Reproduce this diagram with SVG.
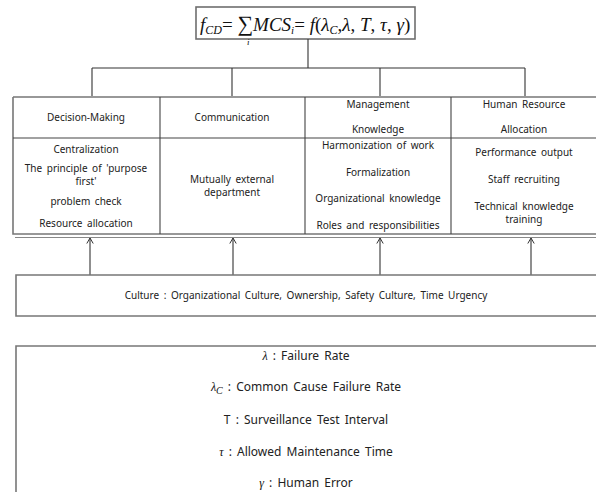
<svg xmlns="http://www.w3.org/2000/svg" width="596" height="492" viewBox="0 0 596 492">
<defs>
<style>
.t{font-family:"Noto Sans","DejaVu Sans",sans-serif;font-size:10px;fill:#222;text-anchor:middle;word-spacing:2px}
.lg{font-family:"Noto Sans","DejaVu Sans",sans-serif;font-size:12px;fill:#222;text-anchor:middle;word-spacing:2px}
.m{font-family:"Liberation Serif","DejaVu Serif",serif;font-style:italic;fill:#111}
.box{fill:#fff;stroke:#6e6e6e;stroke-width:1.6}
.ln{stroke:#333;stroke-width:1.1;fill:none}
.cell{stroke:#444;stroke-width:1.1;fill:none}
</style>
<marker id="ah" markerWidth="8" markerHeight="8" refX="7" refY="4" orient="auto" markerUnits="userSpaceOnUse" viewBox="0 0 8 8">
<path d="M1.5,0.8 L7,4 L1.5,7.2" fill="none" stroke="#333" stroke-width="1"/>
</marker>
</defs>
<rect width="596" height="492" fill="#fff"/>

<g id="formula">
<rect class="box" x="196" y="7" width="219" height="32"/>
<text class="m" x="200" y="31" font-size="19">f<tspan font-size="12" dy="3">CD</tspan><tspan font-style="normal" dy="-3">= </tspan><tspan font-style="normal" font-size="22">∑</tspan>MCS<tspan font-size="11" dy="3">i</tspan><tspan font-style="normal" dy="-3">= </tspan>f<tspan font-style="normal">(</tspan>λ<tspan font-size="12" dy="3">C</tspan><tspan font-style="normal" dy="-3">,</tspan>λ<tspan font-style="normal">, </tspan>T<tspan font-style="normal">, </tspan>τ<tspan font-style="normal">, </tspan>γ<tspan font-style="normal">)</tspan></text>
<text class="m" x="247" y="45" font-size="9">i</text>
</g>

<g id="connectors">
<path class="ln" d="M308,39 V68 M92,68 H525 M92,68 V96 M232,68 V96 M380,68 V96 M525,68 V96"/>
<line class="ln" x1="90" y1="275" x2="90" y2="238" marker-end="url(#ah)"/>
<line class="ln" x1="233" y1="275" x2="233" y2="238" marker-end="url(#ah)"/>
<line class="ln" x1="380" y1="275" x2="380" y2="238" marker-end="url(#ah)"/>
<line class="ln" x1="531" y1="275" x2="531" y2="238" marker-end="url(#ah)"/>
</g>

<g id="table">
<path d="M13,97 H600 M13,97 V234 H600" fill="none" stroke="#777" stroke-width="1.6"/>
<path d="M15,237.5 H600" fill="none" stroke="#888" stroke-width="1.2"/>
<path class="cell" d="M13,138 H600 M160,97 V234 M305,97 V234 M451,97 V234"/>
</g>

<g id="decision-making">
<text class="t" x="86" y="121">Decision-Making</text>
<text class="t" x="86" y="153">Centralization</text>
<text class="t" x="86" y="172">The principle of 'purpose</text>
<text class="t" x="86" y="185">first'</text>
<text class="t" x="86" y="205">problem check</text>
<text class="t" x="86" y="227">Resource allocation</text>
</g>

<g id="communication">
<text class="t" x="232" y="183">Mutually external</text>
<text class="t" x="232" y="196">department</text>
<text class="t" x="232" y="121">Communication</text>
</g>

<g id="management-knowledge">
<text class="t" x="378" y="108">Management</text>
<text class="t" x="378" y="133">Knowledge</text>
<text class="t" x="378" y="149">Harmonization of work</text>
<text class="t" x="378" y="176">Formalization</text>
<text class="t" x="378" y="202">Organizational knowledge</text>
<text class="t" x="378" y="229">Roles and responsibilities</text>
</g>

<g id="human-resource">
<text class="t" x="524" y="108">Human Resource</text>
<text class="t" x="524" y="133">Allocation</text>
<text class="t" x="524" y="156">Performance output</text>
<text class="t" x="524" y="183">Staff recruiting</text>
<text class="t" x="524" y="210">Technical knowledge</text>
<text class="t" x="524" y="223">training</text>
</g>

<g id="culture">
<path d="M600,275 H16 V316 H600" fill="#fff" stroke="#777" stroke-width="1.6"/>
<text class="t" x="306" y="299">Culture : Organizational Culture, Ownership, Safety Culture, Time Urgency</text>
</g>

<g id="legend">
<path d="M600,346 H16 V500" fill="#fff" stroke="#777" stroke-width="1.6"/>
<text class="lg" x="306" y="360"><tspan class="m" font-style="normal">λ</tspan> : Failure Rate</text>
<text class="lg" x="306" y="391"><tspan class="m" font-style="normal">λ</tspan><tspan class="m" font-size="10" dy="3">C</tspan><tspan dy="-3"> : Common Cause Failure Rate</tspan></text>
<text class="lg" x="306" y="424">T : Surveillance Test Interval</text>
<text class="lg" x="306" y="456"><tspan class="m">τ</tspan> : Allowed Maintenance Time</text>
<text class="lg" x="306" y="487"><tspan class="m">γ</tspan> : Human Error</text>
</g>
</svg>
